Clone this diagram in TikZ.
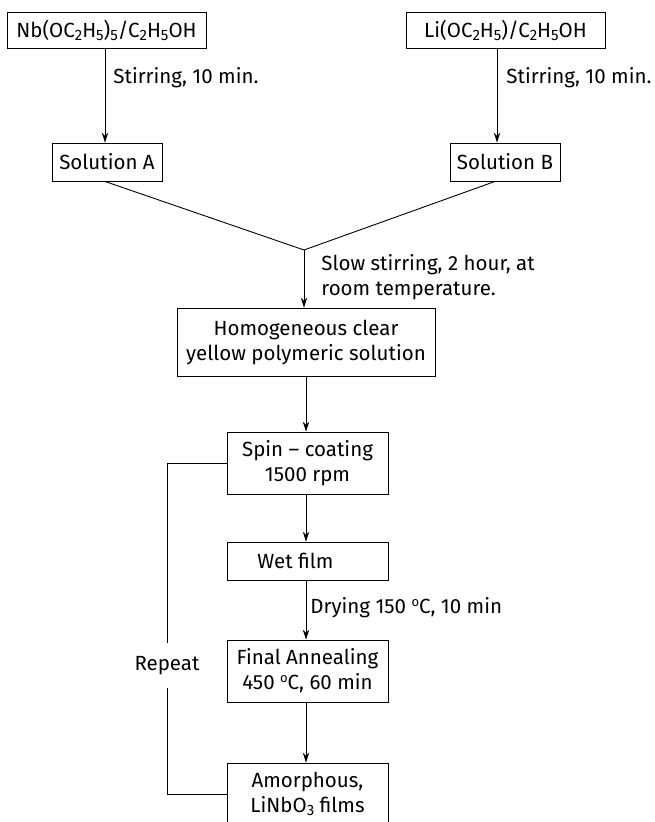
\documentclass[tikz,border=0pt]{standalone}
\usepackage{fontspec}
\setmainfont{Fira Sans}
\usetikzlibrary{arrows.meta}
% chemical-formula subscript: lowered, slightly smaller digits
\newcommand{\chemsub}[1]{\raisebox{-0.28ex}{\fontsize{15}{15}\selectfont #1}}
% degree mark set as a small raised o
\newcommand{\degC}{\raisebox{0.72ex}{\fontsize{13}{13}\selectfont o}C}
\begin{document}
\begin{tikzpicture}[x=1pt,y=-1pt,
  font=\fontsize{20.5}{25}\selectfont,
  every path/.style={line width=0.9pt},
  box/.style={draw, line width=0.9pt, inner sep=0pt, align=center},
  flow/.style={-{Stealth[length=10pt,width=6.5pt]}},
  note/.style={anchor=west, inner sep=0pt, align=left}]
\useasboundingbox (0,0) rectangle (654,822);

% starting precursors
\node[box, minimum width=199pt, minimum height=36pt] (nb) at (106.5,30)
  {Nb(OC\chemsub{2}H\chemsub{5})\chemsub{5}/C\chemsub{2}H\chemsub{5}OH};
\node[box, minimum width=199pt, minimum height=36pt] (li) at (505.5,30)
  {Li(OC\chemsub{2}H\chemsub{5})/C\chemsub{2}H\chemsub{5}OH};

% intermediate solutions
\node[box, minimum width=110pt, minimum height=38pt] (sa) at (107,162) {Solution A};
\node[box, minimum width=110pt, minimum height=38pt] (sb) at (505,162) {Solution B};

% processing chain
\node[box, minimum width=258pt, minimum height=68pt] (homo) at (306,342)
  {Homogeneous clear\\yellow polymeric solution};
\node[box, minimum width=161pt, minimum height=62pt] (spin) at (307.5,463)
  {Spin -- coating\\1500 rpm};
\node[box, minimum width=161pt, minimum height=38pt] (wet) at (307.5,561)
  {\hspace*{-24pt}Wet film};
\node[box, minimum width=161pt, minimum height=62pt] (final) at (307.5,671)
  {Final Annealing\\450 \degC, 60 min};
\node[box, minimum width=161pt, minimum height=62pt] (amor) at (307.5,794)
  {Amorphous,\\LiNbO\chemsub{3} films};

% merge point of the two solutions
\coordinate (j) at (304,250);

% loop label
\node[inner sep=0pt, minimum height=45pt] (rep) at (167,665.5) {Repeat};

% step annotations
\node[note] (l1) at (113,78) {Stirring, 10 min.};
\node[note] (l2) at (506,78) {Stirring, 10 min.};
\node[note] (l3) at (321,277.5) {Slow stirring, 2 hour, at\\room temperature.};
\node[note] (l4) at (310,608) {Drying 150 \degC, 10 min};

% connectors
\draw[flow] ([xshift=-1.5pt]nb.south) -- ([xshift=-1.5pt]nb.south |- sa.north);
\draw[flow] ([xshift=-8.5pt]li.south) -- ([xshift=-8.5pt]li.south |- sb.north);
\draw ([xshift=-2pt]sa.south) -- (j);
\draw ([xshift=-10pt]sb.south) -- (j);
\draw[flow] (j) -- (j |- homo.north);
\draw[flow] (homo.south) -- (homo.south |- spin.north);
\draw[flow] ([xshift=-1.5pt]spin.south) -- ([xshift=-1.5pt]wet.north);
\draw[flow] ([xshift=-1.5pt]wet.south) -- ([xshift=-1.5pt]final.north);
\draw[flow] ([xshift=-1.5pt]final.south) -- ([xshift=-1.5pt]amor.north);

% repeat loop
\draw (spin.west) -| (rep.north);
\draw (rep.south) |- (amor.west);
\end{tikzpicture}
\end{document}
